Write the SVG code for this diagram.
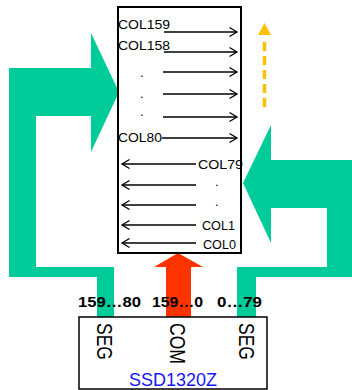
<svg xmlns="http://www.w3.org/2000/svg" width="352" height="390" viewBox="0 0 352 390">
<style>
.green{fill:#00CC99;}
.ln{stroke:#000;stroke-width:1.4;fill:none;}
.col{font-family:"Liberation Sans",Arial,sans-serif;font-size:13px;fill:#000;}
.num{font-family:"Liberation Sans",Arial,sans-serif;font-size:14px;font-weight:bold;fill:#000;}
.rot{font-family:"Liberation Sans",Arial,sans-serif;font-size:17.5px;fill:#000;}
.chip{font-family:"Liberation Sans",Arial,sans-serif;font-size:18px;fill:#1414FF;}
</style>
<defs>
<marker id="ah" markerUnits="userSpaceOnUse" markerWidth="12" markerHeight="12" viewBox="-10 -6 12 12" refX="0" refY="0" orient="auto">
<path d="M-7.5,-4.5 L0,0 L-7.5,4.5" fill="none" stroke="#000" stroke-width="1.3"/>
</marker>
</defs>
<g id="left-bracket">
<polygon class="green" points="9,68 91,68 91,33 119,92 91,152 91,116 36,116 36,267 114,267 114,317 97,317 97,277 9,277"/>
</g>
<g id="right-bracket">
<polygon class="green" points="243,183 271,125 271,160 352,160 352,277 256,277 256,317 237,317 237,267 327,267 327,208 271,208 271,243"/>
</g>
<g id="com-arrow">
<polygon fill="#FF3300" points="178,253 203,267 191,267 191,317 166,317 166,267 154,267"/>
</g>
<g id="scan-direction">
<line x1="264.5" y1="42" x2="264.5" y2="107" stroke="#FFC000" stroke-width="3.5" stroke-dasharray="9,5"/>
<polygon fill="#FFC000" points="264.5,23 271,35 258,35"/>
</g>
<g id="panel">
<rect x="118" y="7" width="123" height="246" fill="#fff" stroke="#000" stroke-width="2"/>
<text class="col" x="118" y="29" textLength="52" lengthAdjust="spacingAndGlyphs">COL159</text>
<text class="col" x="118" y="50" textLength="52" lengthAdjust="spacingAndGlyphs">COL158</text>
<text class="col" x="140" y="77">.</text>
<text class="col" x="140" y="98">.</text>
<text class="col" x="140" y="116">.</text>
<text class="col" x="118" y="142" textLength="44" lengthAdjust="spacingAndGlyphs">COL80</text>
<text class="col" x="198" y="169" textLength="45" lengthAdjust="spacingAndGlyphs">COL79</text>
<text class="col" x="215" y="186">.</text>
<text class="col" x="215" y="206">.</text>
<text class="col" x="202" y="230" textLength="33" lengthAdjust="spacingAndGlyphs">COL1</text>
<text class="col" x="203" y="249" textLength="33" lengthAdjust="spacingAndGlyphs">COL0</text>
</g>
<g id="connectors">
<line class="ln" x1="164" y1="32" x2="237" y2="32" marker-end="url(#ah)"/>
<line class="ln" x1="164" y1="52" x2="237" y2="52" marker-end="url(#ah)"/>
<line class="ln" x1="163" y1="72" x2="237" y2="72" marker-end="url(#ah)"/>
<line class="ln" x1="163" y1="94" x2="237" y2="94" marker-end="url(#ah)"/>
<line class="ln" x1="163" y1="117" x2="237" y2="117" marker-end="url(#ah)"/>
<line class="ln" x1="162" y1="138" x2="237" y2="138" marker-end="url(#ah)"/>
<line class="ln" x1="196" y1="164" x2="122" y2="164" marker-end="url(#ah)"/>
<line class="ln" x1="196" y1="185" x2="122" y2="185" marker-end="url(#ah)"/>
<line class="ln" x1="196" y1="205" x2="122" y2="205" marker-end="url(#ah)"/>
<line class="ln" x1="196" y1="225" x2="122" y2="225" marker-end="url(#ah)"/>
<line class="ln" x1="196" y1="243" x2="122" y2="243" marker-end="url(#ah)"/>
</g>
<g id="labels">
<text class="num" x="78" y="307" textLength="63" lengthAdjust="spacingAndGlyphs">159…80</text>
<text class="num" x="152" y="307" textLength="51" lengthAdjust="spacingAndGlyphs">159…0</text>
<text class="num" x="217" y="307" textLength="45" lengthAdjust="spacingAndGlyphs">0…79</text>
</g>
<g id="ssd1320z">
<rect x="79" y="317" width="188" height="72" fill="#fff" stroke="#000" stroke-width="1.5"/>
<text class="rot" transform="translate(97,323) rotate(90) scale(1,1.3)">SEG</text>
<text class="rot" transform="translate(170,323) rotate(90) scale(1,1.3)">COM</text>
<text class="rot" transform="translate(239,323) rotate(90) scale(1,1.3)">SEG</text>
<text class="chip" x="173" y="386" text-anchor="middle">SSD1320Z</text>
</g>
</svg>
